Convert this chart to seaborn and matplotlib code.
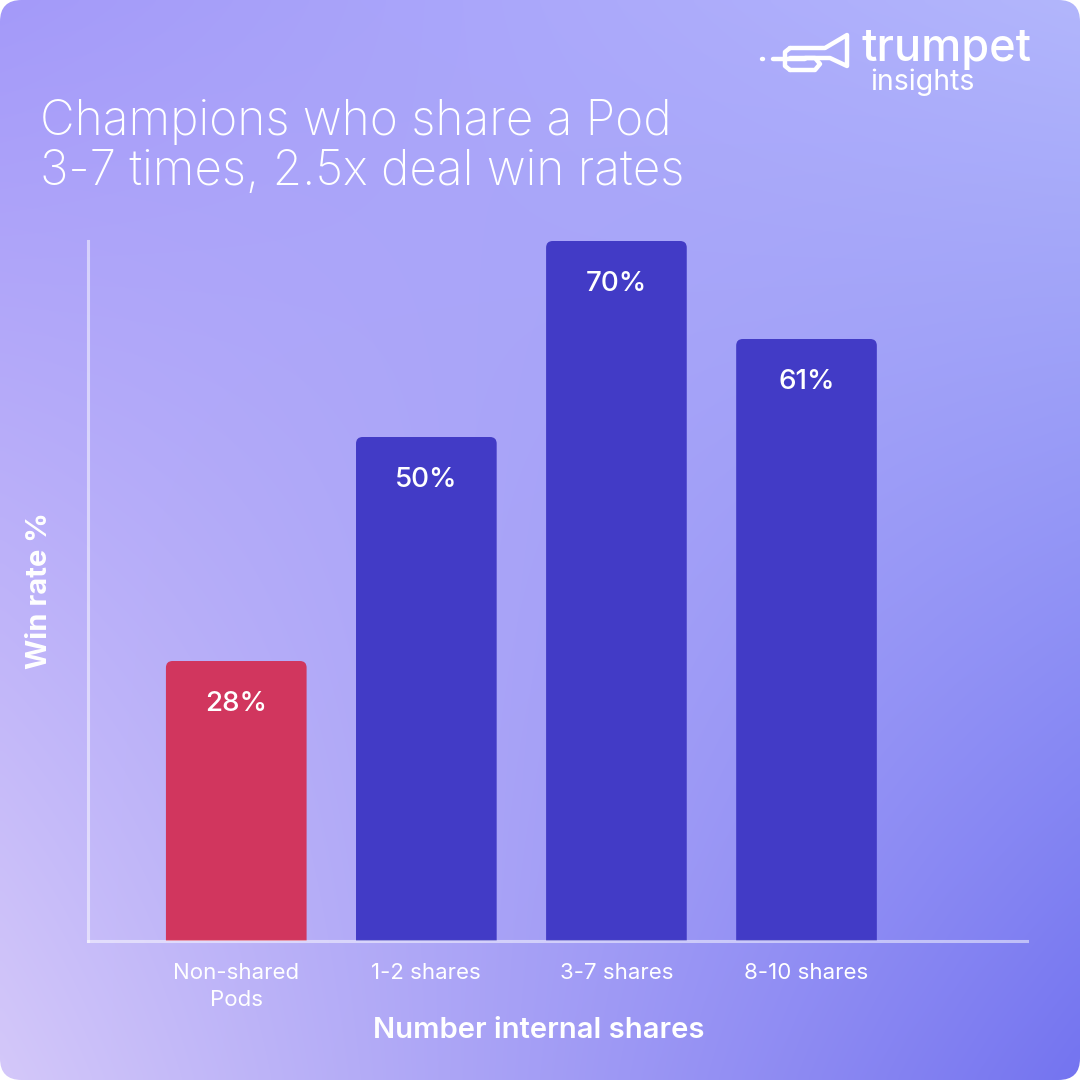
import numpy as np
import matplotlib
matplotlib.use("Agg")
import matplotlib.pyplot as plt
from matplotlib.patches import FancyBboxPatch
from matplotlib.lines import Line2D
import seaborn as sns

# data (bar heights, labels as printed)
categories = ["Non-shared\nPods", "1-2 shares", "3-7 shares", "8-10 shares"]
win_rates = [28, 50.4, 70, 60.2]
value_labels = ["28%", "50%", "70%", "61%"]
bar_colors = ["#d1365e", "#423bc6", "#423bc6", "#423bc6"]
title = "Champions who share a Pod\n3-7 times, 2.5x deal win rates"
x_label = "Number internal shares"
y_label = "Win rate %"

sns.set_theme(style="white")
plt.rcParams["font.family"] = ["Inter", "DejaVu Sans"]

W = H = 1080
fig = plt.figure(figsize=(10.8, 10.8), dpi=100)
fig.patch.set_facecolor("white")

# gradient background with rounded corners
bg = fig.add_axes([0, 0, 1, 1], zorder=-5)
bg.set_axis_off()
tl = np.array([164, 154, 249]) / 255
tr = np.array([178, 182, 252]) / 255
bl = np.array([212, 200, 250]) / 255
br = np.array([116, 116, 240]) / 255
u = np.linspace(0, 1, 200)[None, :, None]
v = np.linspace(0, 1, 200)[:, None, None]
grad = (1 - v) * ((1 - u) * tl + u * tr) + v * ((1 - u) * bl + u * br)
im = bg.imshow(grad, extent=[0, 1, 0, 1], origin="upper", aspect="auto",
               interpolation="bicubic")
bg.set_xlim(0, 1)
bg.set_ylim(0, 1)
clip = FancyBboxPatch((0, 0), 1, 1, boxstyle="round,pad=0,rounding_size=0.02",
                      transform=bg.transAxes, facecolor="none", edgecolor="none")
bg.add_patch(clip)
im.set_clip_path(clip)

# main chart
ax = fig.add_axes([88 / W, 1 - 941 / H, (1027 - 88) / W, (941 - 241) / H])
ax.set_facecolor("none")
sns.barplot(x=categories, y=win_rates, hue=categories, palette=bar_colors,
            width=0.74, legend=False, saturation=1, ax=ax)
ax.set_xlim(-0.78, 4.16)
ax.set_ylim(0, 70)

# rounded tops on the bars
for p, lab in zip(list(ax.patches), value_labels):
    x0, w, h = p.get_x(), p.get_width(), p.get_height()
    fb = FancyBboxPatch((x0, -2), w, h + 2,
                        boxstyle="round,pad=0,rounding_size=0.035",
                        mutation_aspect=19, facecolor=p.get_facecolor(),
                        edgecolor="none", zorder=2)
    ax.add_patch(fb)
    p.set_visible(False)
    ax.annotate(lab, (x0 + w / 2, h), xytext=(0, -31),
                textcoords="offset points", ha="center", va="center",
                color="white", fontsize=20, fontweight="medium")

for s in ["top", "right"]:
    ax.spines[s].set_visible(False)
for s in ["left", "bottom"]:
    ax.spines[s].set_color((1, 1, 1, 0.5))
    ax.spines[s].set_linewidth(2.2)
    ax.spines[s].set_zorder(3)

ax.set_yticks([])
ax.tick_params(axis="x", length=0, pad=16, labelsize=16, labelcolor="white")
for t in ax.get_xticklabels():
    t.set_linespacing(1.45)
ax.set_xlabel(x_label, fontsize=21, fontweight="semibold", color="white")
ax.xaxis.set_label_coords((539 - 88) / (1027 - 88), -(1017 - 941) / 700)
ax.set_ylabel(y_label, fontsize=21, fontweight="bold", color="white")
ax.yaxis.set_label_coords(-(88 - 53) / (1027 - 88), 0.5)

# title
fig.text(40 / W, 1 - 99 / H, title, fontsize=34.4, fontweight="light",
         color="white", ha="left", va="top", linespacing=1.1)

# logo
fig.text(862 / W, 1 - 61 / H, "trumpet", fontsize=32.5, fontweight="medium",
         color="white", ha="left", va="baseline")
fig.text(870 / W, 1 - 90 / H, "insights", fontsize=20.5, color="white",
         ha="left", va="baseline")
lw = 3.2
def seg(xs, ys):
    fig.add_artist(Line2D([x / W for x in xs], [1 - y / H for y in ys],
                          color="white", lw=lw, solid_capstyle="round",
                          solid_joinstyle="round"))
seg([762, 763], [59, 59])
seg([773, 805], [59, 59])
seg([790, 825, 847, 847, 830, 790], [48, 48, 35, 66, 58, 58])
seg([790, 785, 785, 790], [48, 52, 66, 70])
seg([790, 815, 820, 815, 805], [70, 70, 64, 58, 58])

fig.savefig("out.png", dpi=100)
